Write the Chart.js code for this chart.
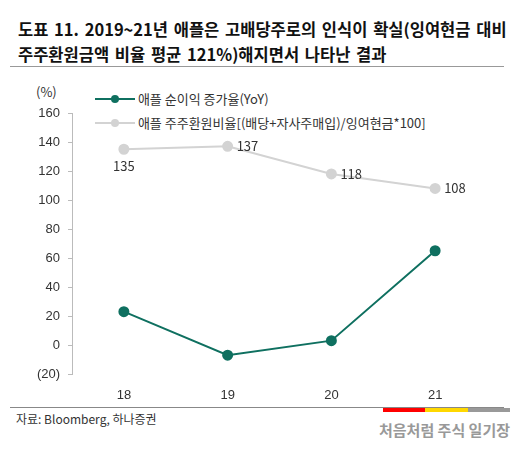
<!DOCTYPE html>
<html><head><meta charset="utf-8">
<script src="https://cdn.jsdelivr.net/npm/chart.js@4"></script>
<style>
body{margin:0;background:#fff;font-family:"Noto Sans CJK KR","Noto Sans",sans-serif;}
#wrap{position:relative;width:525px;height:456px;overflow:hidden;}
.t{position:absolute;white-space:nowrap;}
.ln{display:inline-block;width:40px;position:relative;top:-4px;height:2px;}
.ln i{position:absolute;left:16px;top:-3px;width:8px;height:8px;border-radius:50%;}
</style></head><body>
<div id="wrap">
<div class="t" style="left:18px;top:17px;font-size:16.5px;font-weight:bold;color:#111;line-height:25px;word-spacing:2px">도표 11. 2019~21년 애플은 고배당주로의 인식이 확실(잉여현금 대비<br>주주환원금액 비율 평균 121%)해지면서 나타난 결과</div>
<div style="position:absolute;left:10px;top:66px;width:494px;height:1px;background:#999"></div>
<div class="t" style="left:36px;top:82px;font-size:13px;color:#333">(%)</div>
<div class="t" style="left:95px;top:89px;font-size:13px;color:#333"><span class="ln" style="background:#0f7060"><i style="background:#0f7060"></i></span> 애플 순이익 증가율(YoY)</div>
<div class="t" style="left:95px;top:113px;font-size:13px;color:#333"><span class="ln" style="background:#d3d3d3"><i style="background:#d3d3d3"></i></span> 애플 주주환원비율[(배당+자사주매입)/잉여현금*100]</div>
<div style="position:absolute;left:10px;top:407px;width:494px;height:1px;background:#888"></div>
<div class="t" style="left:16px;top:410px;font-size:12px;color:#333">자료: Bloomberg, 하나증권</div>
<div style="position:absolute;left:383px;top:408px;width:42px;height:4px;background:#f00"></div>
<div style="position:absolute;left:425px;top:408px;width:43px;height:4px;background:#ffd800"></div>
<div style="position:absolute;left:468px;top:408px;width:42px;height:4px;background:#999"></div>
<div class="t" style="right:15px;top:419px;font-size:15px;font-weight:bold;color:#999">처음처럼 주식 일기장</div>
<canvas id="c" width="525" height="456" style="position:absolute;left:0;top:0"></canvas>
</div>
<script>
const categories = ['18', '19', '20', '21'];
const netIncomeGrowth = [23, -7, 3, 65];
const payoutRatio = [135, 137, 118, 108];
const yTicks = [-20, 0, 20, 40, 60, 80, 100, 120, 140, 160];

const labelPlugin = {
    id: 'labels',
    afterDatasetsDraw(chart) {
        const ctx = chart.ctx;
        const meta = chart.getDatasetMeta(1);
        ctx.save();
        ctx.font = '13px "Noto Sans CJK KR", sans-serif';
        ctx.fillStyle = '#333';
        ctx.textBaseline = 'middle';
        meta.data.forEach((pt, i) => {
            if (i === 0) {
                ctx.textAlign = 'center';
                ctx.fillText(payoutRatio[i], pt.x, pt.y + 17);
            } else {
                ctx.textAlign = 'left';
                ctx.fillText(payoutRatio[i], pt.x + 9, pt.y);
            }
        });
        ctx.restore();
    }
};

new Chart(document.getElementById('c'), {
    type: 'line',
    data: {
        labels: categories,
        datasets: [
            { data: netIncomeGrowth, borderColor: '#0f7060', backgroundColor: '#0f7060', borderWidth: 2, pointRadius: 4.5, tension: 0 },
            { data: payoutRatio, borderColor: '#d3d3d3', backgroundColor: '#d3d3d3', borderWidth: 2, pointRadius: 4.5, tension: 0 },
        ],
    },
    options: {
        responsive: false,
        animation: false,
        layout: { padding: { left: 0, right: 38, top: 113, bottom: 0 } },
        plugins: { legend: { display: false }, tooltip: { enabled: false } },
        scales: {
            y: {
                min: -20, max: 160,
                afterFit(s) { s.width = 72; },
                afterBuildTicks(s) { s.ticks = yTicks.map(v => ({ value: v })); },
                ticks: { color: '#333', font: { size: 13 }, padding: 8, callback: v => v < 0 ? '(' + (-v) + ')' : v },
                grid: { drawOnChartArea: false, tickLength: 4, color: '#bbb' },
                border: { color: '#bbb' },
            },
            x: {
                offset: true,
                afterFit(s) { s.height = 82; },
                ticks: { color: '#333', font: { size: 13 }, padding: 6 },
                grid: { display: false },
                border: { display: false },
            },
        },
    },
    plugins: [labelPlugin],
});
</script>
</body></html>
